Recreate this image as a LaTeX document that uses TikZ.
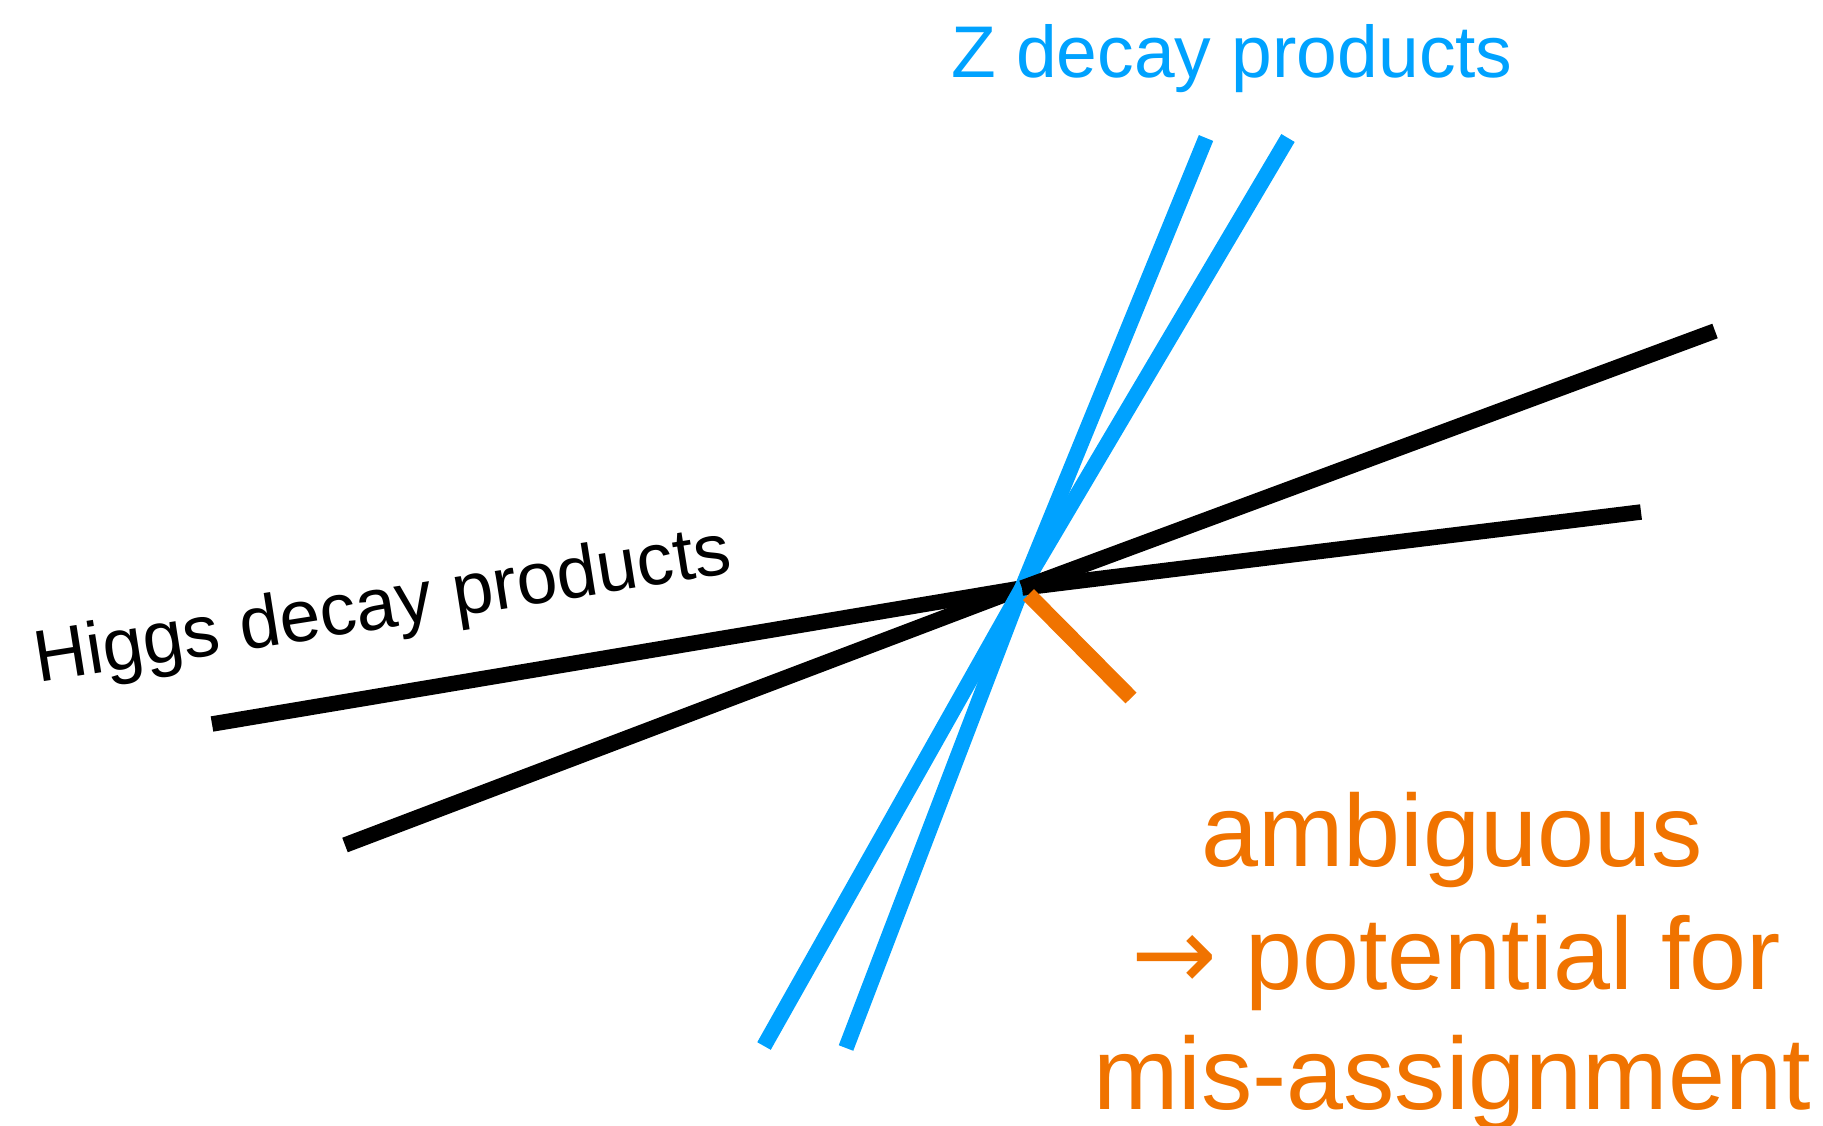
\documentclass[tikz,border=0pt]{standalone}
\usepackage{fontspec}
\usetikzlibrary{calc}
\setmainfont{Liberation Sans}
\newfontfamily\arrowfont{DejaVu Sans}
\definecolor{zblue}{RGB}{0,162,255}
\definecolor{amborange}{RGB}{240,115,0}
\begin{document}
\begin{tikzpicture}[x=1pt,y=-1pt,
  track/.style={line width=15.5pt},
  higgs/.style={track,black},
  zdec/.style={track,zblue},
  amb/.style={track,amborange},
  lbl/.style={inner sep=0pt,anchor=base west,font=\fontsize{73.2}{88}\selectfont},
  ambtext/.style={inner sep=0pt,anchor=base,text=amborange,font=\fontsize{102.5}{123}\selectfont}]
\useasboundingbox (0,0) rectangle (1823,1125);
% vertex and endpoints
\coordinate (v) at (1022,588);
\coordinate (h1a) at (212,724);  \coordinate (h1b) at (1641,512);
\coordinate (h2a) at (345,845);  \coordinate (h2b) at (1715,331);
\coordinate (z1a) at (764,1046); \coordinate (z1b) at (1288,138);
\coordinate (z2a) at (846,1048); \coordinate (z2b) at (1206,138);
\coordinate (o2) at (1131,698);
\coordinate (o1) at ($(v)!0.06!(o2)$);
% tracks
\draw[higgs] (v) -- (h1a);
\draw[higgs] (v) -- (h2a);
\draw[zdec] (v) -- (z1a);
\draw[zdec] (v) -- (z1b);
\draw[zdec] (v) -- (z2a);
\draw[zdec] (v) -- (z2b);
\draw[higgs] (v) -- (h1b);
\draw[higgs] (v) -- (h2b);
\draw[amb] (o1) -- (o2);
% labels
\node[lbl,text=zblue] (zlabel) at (951,77) {Z decay products};
\node[lbl,text=black,rotate=9] (hlabel) at (38,683) {Higgs decay products};
\node[ambtext] (amb1) at (1452,866) {ambiguous};
\node[ambtext] (amb2) at (1456,989) {{\arrowfont →} potential for};
\node[ambtext] (amb3) at (1452,1109) {mis-assignment};
\end{tikzpicture}
\end{document}
